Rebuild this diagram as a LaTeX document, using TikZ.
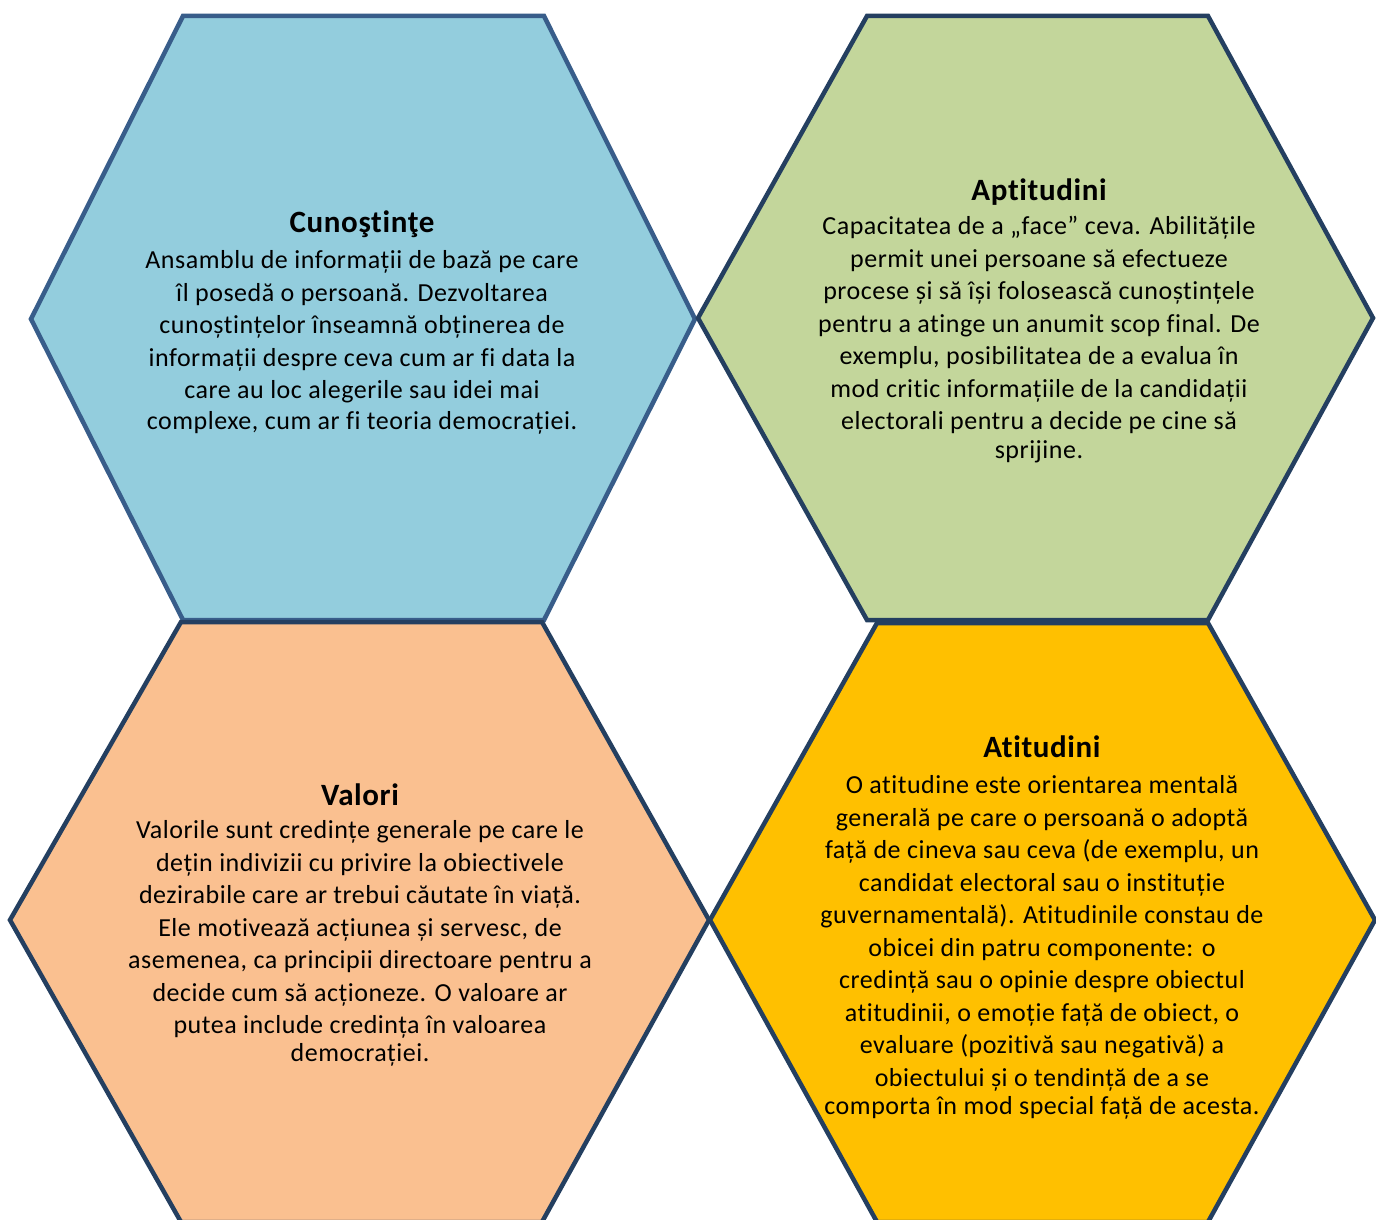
\documentclass[tikz,border=0pt]{standalone}
\usepackage{fontspec}
\setmainfont{Carlito}[LetterSpace=2, Ligatures=NoCommon]
\usetikzlibrary{positioning}

\definecolor{blueF}{HTML}{93CDDD}
\definecolor{greenF}{HTML}{C3D69B}
\definecolor{peachF}{HTML}{FAC090}
\definecolor{goldF}{HTML}{FFC000}
\definecolor{edgeD}{HTML}{243F60}
\definecolor{edgeL}{HTML}{385D8A}

\tikzset{
  hexa/.style={draw=edgeD, line width=4.5pt, line join=miter},
  title/.style={anchor=base, inner sep=0pt, font=\fontsize{31}{36}\selectfont\bfseries},
  body/.style={anchor=north, inner sep=0pt, align=center, font=\fontsize{26}{32.5}\selectfont}
}

\begin{document}
\begin{tikzpicture}[x=1pt, y=-1pt]
		\clip (0,0) rectangle (1376,1220);
		\fill[white] (0,0) rectangle (1376,1220);

		% upper row
		\filldraw[hexa, draw=edgeL, fill=blueF] (183,16) -- (544,16) -- (695,319) -- (544,620) -- (183,620) -- (31,319) -- cycle;
		\filldraw[hexa, fill=greenF] (867,16) -- (1208,16) -- (1373,318) -- (1208,620) -- (867,620) -- (698,318) -- cycle;

		% lower row
		\filldraw[hexa, fill=peachF] (181,622) -- (542,622) -- (709,920) -- (542,1222) -- (181,1222) -- (10,920) -- cycle;
		\filldraw[hexa, fill=goldF] (877,623) -- (1208,623) -- (1375,920) -- (1208,1222) -- (877,1222) -- (710,920) -- cycle;

		% texts: first body line starts with a strut, so its top sits 0.7 line above the baseline
		\node[title] (cunT) at (362, 232) {Cunoştinţe};
		\node[body] (cun) at (362, 246) {\strut Ansamblu de informații de bază pe care\\
			îl posedă o persoană. Dezvoltarea\\
			cunoștințelor înseamnă obținerea de\\
			informații despre ceva cum ar fi data la\\
			care au loc alegerile sau idei mai\\[-2pt]
			complexe, cum ar fi teoria democrației.};

		\node[title] (aptT) at (1039, 200) {Aptitudini};
		\node[body] (apt) at (1039, 212) {\strut Capacitatea de a „face” ceva. Abilitățile\\
			permit unei persoane să efectueze\\
			procese și să își folosească cunoștințele\\
			pentru a atinge un anumit scop final. De\\
			exemplu, posibilitatea de a evalua în\\
			mod critic informațiile de la candidații\\
			electorali pentru a decide pe cine să\\[-3.5pt]
			sprijine.};

		\node[title] (valT) at (360, 805) {Valori};
		\node[body] (val) at (360, 816) {\strut Valorile sunt credințe generale pe care le\\
			dețin indivizii cu privire la obiectivele\\
			dezirabile care ar trebui căutate în viață.\\
			Ele motivează acțiunea și servesc, de\\
			asemenea, ca principii directoare pentru a\\
			decide cum să acționeze. O valoare ar\\
			putea include credința în valoarea\\[-4.5pt]
			democrației.};

		\node[title] (atiT) at (1042, 757) {Atitudini};
		\node[body] (ati) at (1042, 771) {\strut O atitudine este orientarea mentală\\
			generală pe care o persoană o adoptă\\
			față de cineva sau ceva (de exemplu, un\\
			candidat electoral sau o instituție\\
			guvernamentală). Atitudinile constau de\\
			obicei din patru componente: o\\
			credință sau o opinie despre obiectul\\
			atitudinii, o emoție față de obiect, o\\
			evaluare (pozitivă sau negativă) a\\
			obiectului și o tendință de a se\\[-4.5pt]
			comporta în mod special față de acesta.};
	\end{tikzpicture}
\end{document}
